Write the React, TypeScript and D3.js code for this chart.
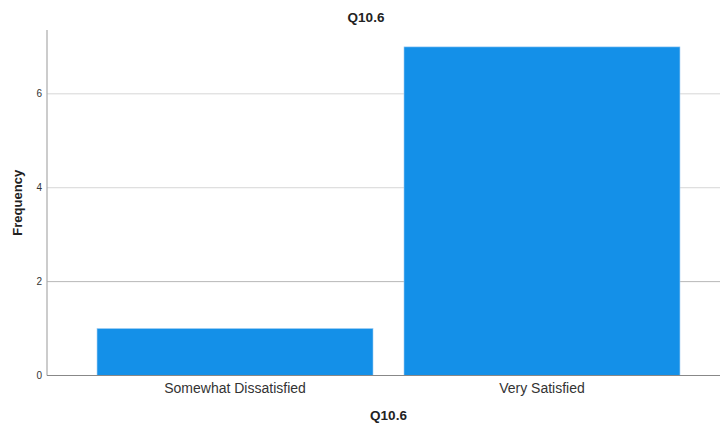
import React from "react";
import * as d3 from "d3";

const categories = ["Somewhat Dissatisfied", "Very Satisfied"];
const frequencies = [1, 7];
const yTicks = [0, 2, 4, 6];
const title = "Q10.6";
const xTitle = "Q10.6";
const yTitle = "Frequency";

export default function App() {
  const W = 720, H = 426;
  const left = 47, right = 730, top = 30, bottom = 375.5;
  const x = d3.scaleBand<string>().domain(categories).range([left, right]).paddingInner(0.101).paddingOuter(0.163);
  const y = d3.scaleLinear().domain([0, 7.36]).range([bottom, top]);
  const font = "Arial, 'Liberation Sans', sans-serif";
  return (
    <svg width={W} height={H} style={{ position: "absolute", left: 0, top: 0, background: "#fff" }}>
      <text x={366} y={22} textAnchor="middle" fontFamily={font} fontSize={13.5} fontWeight="bold" fill="#222">{title}</text>
      {yTicks.filter(t => t > 0).map(t => (
        <line key={t} x1={left} x2={W} y1={y(t)} y2={y(t)} stroke={t === 2 ? "#b8b8b8" : "#d6d6d6"} strokeWidth={1} />
      ))}
      {categories.map((c, i) => (
        <rect key={c} x={x(c)!} y={y(frequencies[i])} width={x.bandwidth()} height={bottom - y(frequencies[i])} fill="#1490E8" stroke="#9ccbf2" strokeWidth={0.6} />
      ))}
      <line x1={left} x2={left} y1={top} y2={bottom} stroke="#aaa" strokeWidth={1.2} />
      <line x1={left} x2={W} y1={bottom} y2={bottom} stroke="#888" strokeWidth={1} />
      {yTicks.map(t => (
        <text key={t} x={42} y={y(t) + 3.5} textAnchor="end" fontFamily={font} fontSize={10} fill="#333">{t}</text>
      ))}
      {categories.map(c => (
        <text key={c} x={x(c)! + x.bandwidth() / 2} y={393} textAnchor="middle" fontFamily={font} fontSize={14} fill="#333">{c}</text>
      ))}
      <text x={(left + right) / 2} y={420} textAnchor="middle" fontFamily={font} fontSize={13.5} fontWeight="bold" fill="#222">{xTitle}</text>
      <text transform={`translate(22, ${(top + bottom) / 2}) rotate(-90)`} textAnchor="middle" fontFamily={font} fontSize={13} fontWeight="bold" fill="#222">{yTitle}</text>
    </svg>
  );
}
